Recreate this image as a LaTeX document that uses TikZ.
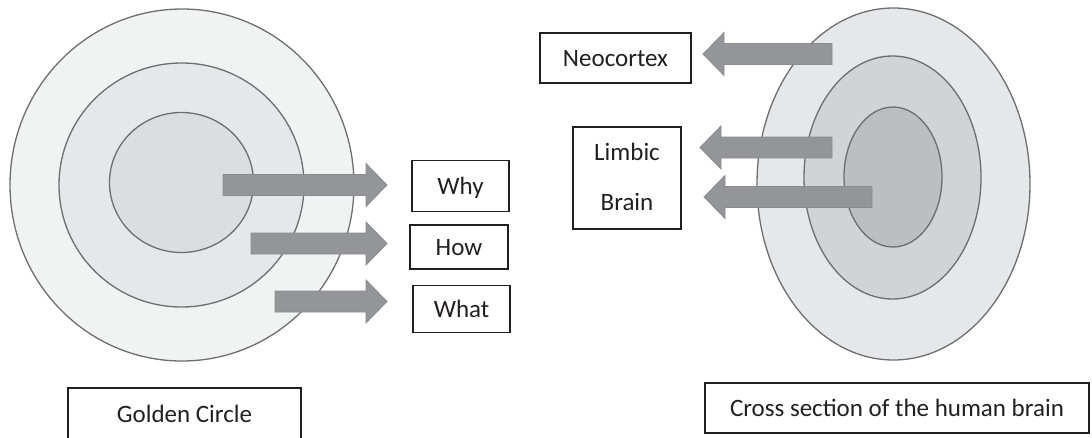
\documentclass[tikz,border=0pt]{standalone}
\usepackage{fontspec}
\setmainfont{Carlito}
\definecolor{ringline}{HTML}{6D6E71}
\definecolor{lo}{HTML}{F1F2F2}
\definecolor{lm}{HTML}{E6E7E8}
\definecolor{li}{HTML}{DCDDDE}
\definecolor{ro}{HTML}{E6E7E8}
\definecolor{rm}{HTML}{D1D3D4}
\definecolor{ri}{HTML}{BCBEC0}
\definecolor{arrfill}{HTML}{939598}
\definecolor{arredge}{HTML}{8A8C8E}
\definecolor{txt}{HTML}{231F20}
\newcommand\blockarr[3]{% #1 tail x, #2 tip x, #3 centre y
  \pgfmathsetmacro\hbx{#2 + (#1 > #2 ? 21 : -21)}
  \draw[barr] (#1,#3-10.5) -- (\hbx,#3-10.5) -- (\hbx,#3-21.5) -- (#2,#3)
    -- (\hbx,#3+21.5) -- (\hbx,#3+10.5) -- (#1,#3+10.5) -- cycle;}
\begin{document}
\begin{tikzpicture}[x=1pt,y=-1pt,
  ring/.style={draw=ringline, line width=1.3pt},
  lbl/.style={font=\fontsize{25}{30}\selectfont, text=txt},
  box/.style={draw=txt, line width=1.3pt, lbl, inner sep=0pt,
              text height=16pt, text depth=0pt},
  barr/.style={fill=arrfill, draw=arredge, line width=0.8pt}]
\useasboundingbox (0,0) rectangle (1092,437);
\clip (0,0) rectangle (1092,437);
% Golden circle
\draw[ring, fill=lo] (182,185) ellipse [x radius=172, y radius=176];
\draw[ring, fill=lm] (181.5,185) ellipse [x radius=122.5, y radius=122];
\draw[ring, fill=li] (181.5,182.5) ellipse [x radius=72, y radius=70];
\blockarr{223}{387}{185}
\blockarr{251}{387}{243.5}
\blockarr{275}{387}{301.5}
\node[box, minimum width=97pt, minimum height=51pt] (why) at (460.5,186) {Why};
\node[box, minimum width=98pt, minimum height=44pt] (how) at (459,247) {How};
\node[box, minimum width=97pt, minimum height=47pt] (what) at (461.5,309) {What};
\node[box, minimum width=233pt, minimum height=80pt] (gcbox) at (184.5,428) {};
\node[lbl, anchor=base] (gc) at (184.5,422) {Golden Circle};
% Brain cross section
\draw[ring, fill=ro] (893.5,184) ellipse [x radius=136.5, y radius=176];
\draw[ring, fill=rm] (892.5,177.5) ellipse [x radius=88.5, y radius=121.5];
\draw[ring, fill=ri] (893,177) ellipse [x radius=49, y radius=70];
\blockarr{832}{703}{54}
\blockarr{832}{700}{147.5}
\blockarr{872}{704}{197}
\node[box, minimum width=151pt, minimum height=50pt] (neo) at (615.5,58) {Neocortex};
\node[box, minimum width=108pt, minimum height=102pt] (limbic) at (627,178) {};
\node[lbl, anchor=base] (lim1) at (627,160) {Limbic};
\node[lbl, anchor=base] (lim2) at (627,210) {Brain};
\node[box, minimum width=384pt, minimum height=50pt] (cross) at (897,408) {Cross section of the human brain};
\end{tikzpicture}
\end{document}
